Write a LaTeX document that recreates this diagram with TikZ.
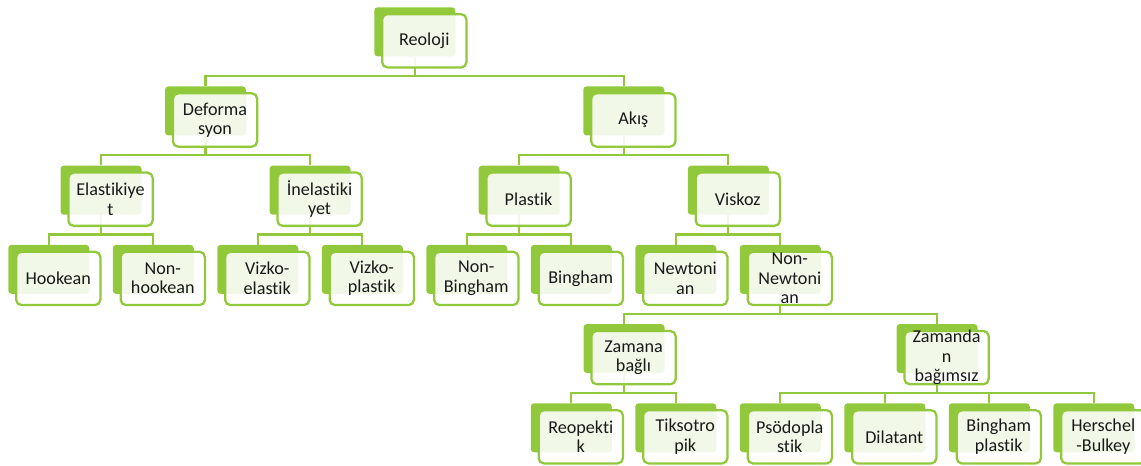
\documentclass[tikz,border=0pt]{standalone}
\usepackage{fontspec}
\setmainfont{Carlito}[Ligatures={NoCommon,NoContextual}]
\usetikzlibrary{calc}
\definecolor{grn}{RGB}{146,201,60}
\definecolor{txt}{RGB}{25,25,25}
\pgfdeclarelayer{bg}
\pgfsetlayers{bg,main}
\newcommand\smnode[4]{%
  \node[back] (#1b) at (#2,#3) {};
  \node[front] (#1f) at (#2+7,#3+6) {};
  \node[lbl] (#1) at (#1f.center) {#4};
}
\newcommand\smlink[2]{\draw[conn] (#1b.south) -- ++(0,19.5) -| (#2b.north);}
\begin{document}
\begin{tikzpicture}[x=0.75pt,y=-0.75pt,
  back/.style={fill=grn, rounded corners=2.5pt, minimum width=60.75pt, minimum height=36.75pt, inner sep=0pt, anchor=north west},
  front/.style={draw=grn, line width=1.7pt, fill=white, fill opacity=0.88, rounded corners=4pt, minimum width=63.2pt, minimum height=40pt, inner sep=0pt, anchor=north west},
  lbl/.style={align=center, font=\fontsize{13.6}{14.6}\selectfont, text=txt, inner sep=0pt},
  conn/.style={draw=grn, line width=1.7pt}]
\useasboundingbox (0,0) rectangle (1141,465);
% level 0
\smnode{r}{374}{7}{Reoloji}
% level 1
\smnode{def}{164.75}{86.2}{Deforma\\syon}
\smnode{aki}{583}{86.2}{Akış}
% level 2
\smnode{ela}{60.25}{165.4}{Elastikiye\\t}
\smnode{ine}{269.25}{165.4}{İnelastiki\\yet}
\smnode{pla}{478.25}{165.4}{Plastik}
\smnode{vis}{687.5}{165.4}{Viskoz}
% level 3
\smnode{hoo}{8}{244.6}{Hookean}
\smnode{nho}{112.5}{244.6}{Non-\\hookean}
\smnode{vel}{217}{244.6}{Vizko-\\elastik}
\smnode{vpl}{321.5}{244.6}{Vizko-\\plastik}
\smnode{nbi}{426}{244.6}{Non-\\Bingham}
\smnode{bin}{530.5}{244.6}{Bingham}
\smnode{new}{635}{244.6}{Newtoni\\an}
\smnode{nne}{739.5}{244.6}{Non-\\Newtoni\\an}
% level 4
\smnode{zb}{583.25}{323.8}{Zamana\\bağlı}
\smnode{zbs}{896.25}{323.8}{Zamanda\\n\\bağımsız}
% level 5
\smnode{reo}{530.5}{403}{Reopekti\\k}
\smnode{tik}{635}{403}{Tiksotro\\pik}
\smnode{pso}{739.5}{403}{Psödopla\\stik}
\smnode{dil}{844}{403}{Dilatant}
\smnode{bpl}{948.5}{403}{Bingham\\plastik}
\smnode{her}{1053}{403}{Herschel\\-Bulkey}
\begin{pgfonlayer}{bg}
\smlink{r}{def}
\smlink{r}{aki}
\smlink{def}{ela}
\smlink{def}{ine}
\smlink{aki}{pla}
\smlink{aki}{vis}
\smlink{ela}{hoo}
\smlink{ela}{nho}
\smlink{ine}{vel}
\smlink{ine}{vpl}
\smlink{pla}{nbi}
\smlink{pla}{bin}
\smlink{vis}{new}
\smlink{vis}{nne}
\smlink{nne}{zb}
\smlink{nne}{zbs}
\smlink{zb}{reo}
\smlink{zb}{tik}
\smlink{zbs}{pso}
\smlink{zbs}{dil}
\smlink{zbs}{bpl}
\smlink{zbs}{her}
\end{pgfonlayer}
\end{tikzpicture}
\end{document}
